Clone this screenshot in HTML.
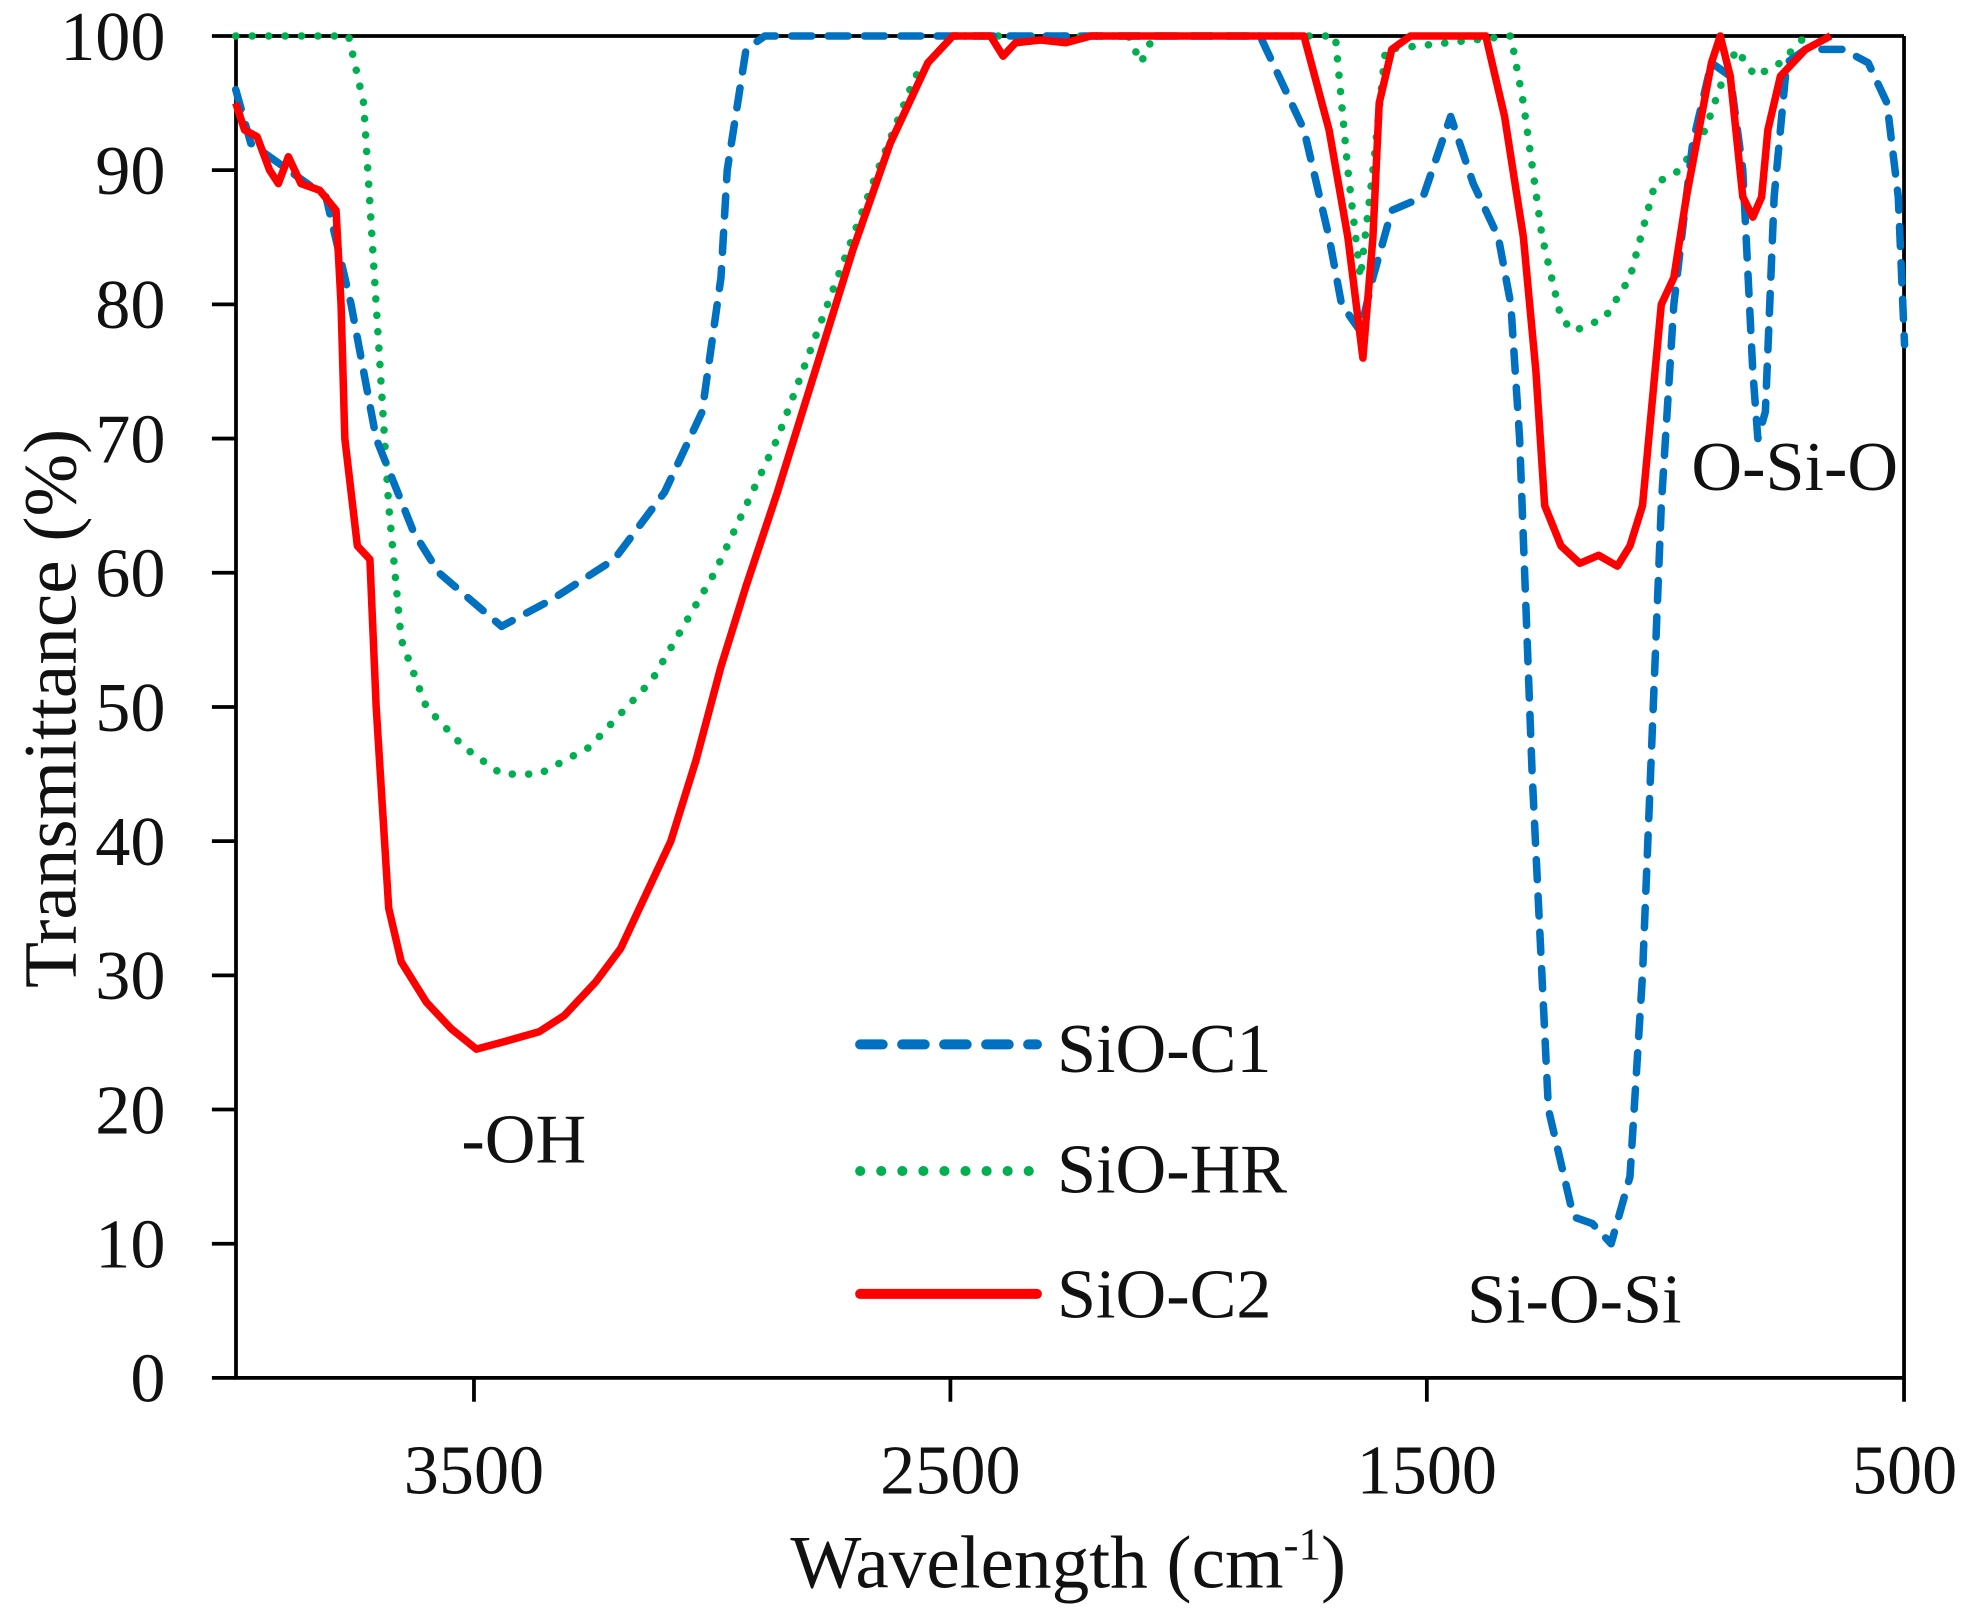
<!DOCTYPE html>
<html><head><meta charset="utf-8"><style>html,body{margin:0;padding:0;background:#fff}svg{display:block}text{font-family:"Liberation Serif",serif;fill:#111}</style></head>
<body>
<svg id="s" width="1966" height="1614" viewBox="0 0 1568 1287.3" xmlns="http://www.w3.org/2000/svg">
<g id="ax" stroke="#000" stroke-width="3" fill="none">
<path d="M188.2 28.7 H1518.6 M188.2 28.7 V1099 H1518.6 V28.7"/>
</g>
<g id="ticks" stroke="#000" stroke-width="3"></g>
<g id="curves" fill="none"></g>
<g font-size="56" text-anchor="end" id="yl"></g>
<g font-size="56" text-anchor="middle">
<text x="378" y="1191">3500</text><text x="758" y="1191">2500</text><text x="1138" y="1191">1500</text><text x="1519" y="1191">500</text>
</g>
<text x="852" y="1266" font-size="60" text-anchor="middle">Wavelength (cm<tspan font-size="36" dy="-22">-1</tspan><tspan dy="22">)</tspan></text>
<text transform="translate(60,565) rotate(-90)" font-size="60" text-anchor="middle">Transmittance (%)</text>
<g font-size="56">
<text x="368" y="927">-OH</text>
<text x="1170" y="1055">Si-O-Si</text>
<text x="1349" y="391">O-Si-O</text>
<text x="843" y="855">SiO-C1</text>
<text x="843" y="951">SiO-HR</text>
<text x="843" y="1051">SiO-C2</text>
</g>
<g fill="none" stroke-width="8" stroke-linecap="round">
<line x1="686" y1="833" x2="827" y2="833" stroke="#0070C0" stroke-dasharray="18 15.5"/>
<line x1="686" y1="934" x2="827" y2="934" stroke="#00B050" stroke-dasharray="0.1 16.7"/>
<line x1="686" y1="1032" x2="827" y2="1032" stroke="#FF0000"/>
</g>
</svg>
<script>
var Y=function(t){return 28.7+(100-t)*10.703;};
var tk=document.getElementById('ticks'),yl=document.getElementById('yl'),h='',l='';
for(var v=0;v<=100;v+=10){var y=Y(v);h+='<line x1="169" y1="'+y+'" x2="188" y2="'+y+'"/>';l+='<text x="132" y="'+(y+19)+'">'+v+'</text>';}
[378,758,1138,1518.6].forEach(function(x){h+='<line x1="'+x+'" y1="1099" x2="'+x+'" y2="1118"/>';});
tk.innerHTML=h;yl.innerHTML=l;
var blue=[[188,96],[200,92],[260,88],[280,80],[300,70],[330,63],[350,60],[400,56],[440,58],[490,61],[530,66],[560,72],[575,82],[580,90],[595,99],[610,100],[1005,100],[1040,93],[1060,85],[1070,80],[1085,78],[1095,82],[1110,87],[1135,88],[1157,94],[1175,89],[1195,85],[1205,80],[1212,70],[1222,45],[1235,20],[1255,12],[1270,11.5],[1285,10],[1300,15],[1310,30],[1325,65],[1335,80],[1350,92],[1365,98],[1380,97],[1390,90],[1398,75],[1402,70],[1408,72],[1415,88],[1425,98],[1440,99],[1470,99],[1490,98],[1505,95],[1514,88],[1519,77]];
var green=[[188,100],[278,100],[290,95],[300,80],[310,65],[320,55],[340,50],[370,47],[400,45],[430,45],[470,47],[520,52],[570,60],[620,70],[660,80],[700,90],[730,97],[760,100],[900,100],[910,98],[920,100],[1055,100],[1065,100],[1075,90],[1085,82],[1095,90],[1105,99],[1205,100],[1215,95],[1230,85],[1245,79],[1255,78],[1280,79],[1300,82],[1320,89],[1340,90],[1360,93],[1375,97],[1385,99],[1400,97],[1420,98],[1440,100]];
var red=[[188,95],[195,93],[205,92.5],[215,90],[222,89],[230,91],[240,89],[255,88.5],[268,87],[272,80],[275,70],[285,62],[295,61],[300,50],[310,35],[320,31],[340,28],[360,26],[380,24.5],[400,25],[430,25.8],[450,27],[475,29.5],[495,32],[515,36],[535,40],[555,46],[575,53],[595,59],[620,66],[650,75],[680,84],[710,92],[740,98],[760,100],[790,100],[800,98.5],[810,99.5],[830,99.7],[850,99.5],[870,100],[1040,100],[1060,93],[1075,85],[1087,76],[1095,85],[1100,95],[1110,99],[1125,100],[1185,100],[1200,94],[1215,85],[1225,75],[1232,65],[1245,62],[1260,60.7],[1275,61.3],[1290,60.5],[1300,62],[1310,65],[1320,75],[1325,80],[1335,82],[1345,88],[1365,98],[1372,100],[1380,97],[1390,88],[1398,86.5],[1405,88],[1410,93],[1420,97],[1440,99],[1460,100]];
function p(a){return 'M'+a.map(function(q){return q[0]+' '+Y(q[1]).toFixed(1);}).join(' L');}
document.getElementById('curves').innerHTML=
'<path d="'+p(green)+'" stroke="#00B050" stroke-width="6" stroke-dasharray="0.1 13" stroke-linecap="round"/>'+
'<path d="'+p(blue)+'" stroke="#0070C0" stroke-width="6" stroke-dasharray="16 13" stroke-linecap="round" stroke-linejoin="round"/>'+
'<path d="'+p(red)+'" stroke="#FF0000" stroke-width="6" stroke-linejoin="round"/>';
</script>
</body></html>
